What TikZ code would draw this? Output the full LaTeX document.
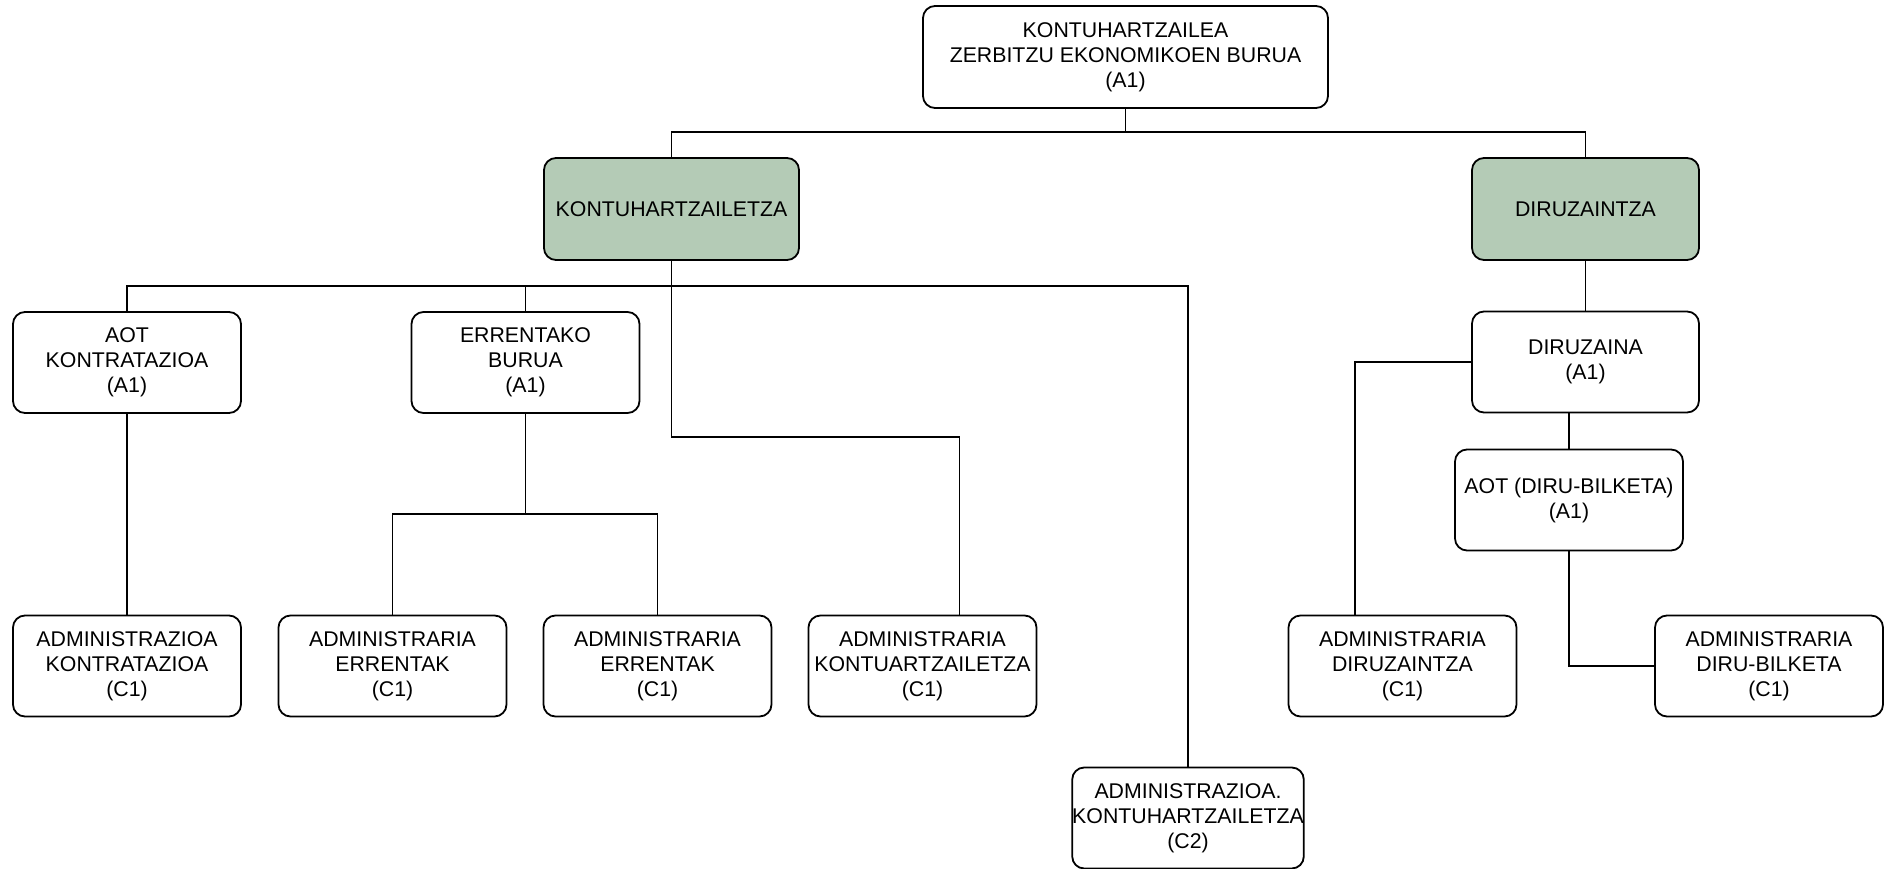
\documentclass[tikz,border=0pt]{standalone}
\usepackage{fontspec}
\setmainfont{Liberation Sans}
\definecolor{boxgreen}{RGB}{180,203,182}
\begin{document}
\begin{tikzpicture}[x=1pt,y=-1pt,
  box/.style={draw=black, line width=1.8pt, rounded corners=12pt, fill=white,
    minimum width=228pt, minimum height=101pt, inner sep=0pt, align=center,
    font=\fontsize{21.3}{25}\selectfont},
  grn/.style={box, fill=boxgreen},
  conn/.style={line width=1.9pt}]
\fill[white] (0,0) rectangle (1890,869);
\useasboundingbox (0,0) rectangle (1890,869);

\node[box, minimum width=405pt, minimum height=102pt] (top) at (1125.5,57) {KONTUHARTZAILEA\\ZERBITZU EKONOMIKOEN BURUA\\(A1)};
\node[grn, minimum width=255pt, minimum height=102pt] (kon) at (671.5,209) {KONTUHARTZAILETZA};
\node[grn, minimum width=227pt, minimum height=102pt] (dir) at (1585.5,209) {DIRUZAINTZA};
\node[box] (aot) at (127,362.5) {AOT\\KONTRATAZIOA\\(A1)};
\node[box] (err) at (525.5,362.5) {ERRENTAKO\\BURUA\\(A1)};
\node[box, minimum width=227pt] (dza) at (1585.5,362) {DIRUZAINA\\(A1)};
\node[box] (adb) at (1569,500) {AOT (DIRU-BILKETA)\\(A1)};
\node[box] (b1) at (127,666) {ADMINISTRAZIOA\\KONTRATAZIOA\\(C1)};
\node[box] (b2) at (392.5,666) {ADMINISTRARIA\\ERRENTAK\\(C1)};
\node[box] (b3) at (657.5,666) {ADMINISTRARIA\\ERRENTAK\\(C1)};
\node[box] (b4) at (922.5,666) {ADMINISTRARIA\\KONTUARTZAILETZA\\(C1)};
\node[box] (b5) at (1402.5,666) {ADMINISTRARIA\\DIRUZAINTZA\\(C1)};
\node[box] (b6) at (1769,666) {ADMINISTRARIA\\DIRU-BILKETA\\(C1)};
\node[box] (c2) at (1188,818) {ADMINISTRAZIOA.\\KONTUHARTZAILETZA\\(C2)};

\coordinate (h1) at (0,132);
\coordinate (h2) at (0,286);
\coordinate (h3) at (0,437);
\coordinate (h4) at (0,514);
\coordinate (b4in) at ([xshift=37pt]b4.north);
\coordinate (b5in) at ([xshift=-47.5pt]b5.north);

\draw[conn] (top.south) -- (top.south |- h1);
\draw[conn] (kon.north) -- (kon.north |- h1) -- (dir.north |- h1) -- (dir.north);
\draw[conn] (kon.south) -- (kon.south |- h3) -- (b4in |- h3) -- (b4in);
\draw[conn] (aot.north) -- (aot.north |- h2) -- (c2.north |- h2) -- (c2.north);
\draw[conn] (err.north) -- (err.north |- h2);
\draw[conn] (aot.south) -- (b1.north);
\draw[conn] (err.south) -- (err.south |- h4);
\draw[conn] (b2.north) -- (b2.north |- h4) -- (b3.north |- h4) -- (b3.north);
\draw[conn] (dir.south) -- (dza.north);
\draw[conn] (dza.west) -| (b5in);
\draw[conn] (adb.north |- dza.south) -- (adb.north);
\draw[conn] (adb.south) |- (b6.west);
\end{tikzpicture}
\end{document}
